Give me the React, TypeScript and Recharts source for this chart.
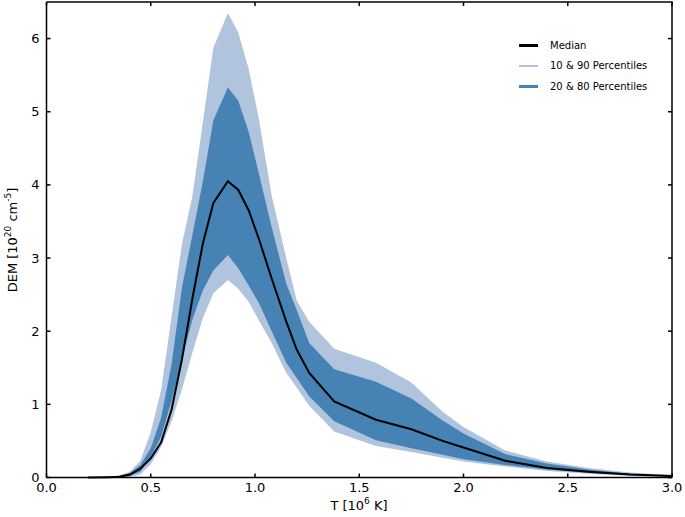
import { ComposedChart, Area, Line, XAxis, YAxis } from "recharts";

// temperature grid [MK]
const T = [
  0.2, 0.3, 0.35, 0.4, 0.45, 0.5, 0.55, 0.6, 0.65, 0.7, 0.75, 0.8, 0.87, 0.92, 0.97,
  1.02, 1.08, 1.15, 1.2, 1.26, 1.38, 1.58, 1.75, 1.9, 2.0, 2.2, 2.4, 2.6, 2.8, 3.0,
];
const MEDIAN = [
  0.0, 0.005, 0.01, 0.04, 0.12, 0.26, 0.48, 0.93, 1.62, 2.45, 3.2, 3.75, 4.05, 3.93, 3.65,
  3.25, 2.72, 2.13, 1.75, 1.43, 1.04, 0.79, 0.66, 0.5, 0.41, 0.23, 0.13, 0.08, 0.04, 0.02,
];
const P10 = [
  0.0, 0.0, 0.0, 0.01, 0.04, 0.18, 0.42, 0.77, 1.21, 1.71, 2.18, 2.52, 2.7, 2.58, 2.4,
  2.14, 1.84, 1.43, 1.23, 0.98, 0.63, 0.43, 0.35, 0.27, 0.22, 0.15, 0.09, 0.05, 0.02, 0.01,
];
const P20 = [
  0.0, 0.0, 0.005, 0.02, 0.08, 0.28, 0.56, 1.05, 1.62, 2.16, 2.56, 2.83, 3.04, 2.86, 2.62,
  2.38, 2.0, 1.57, 1.36, 1.11, 0.77, 0.51, 0.4, 0.31, 0.25, 0.17, 0.11, 0.06, 0.03, 0.01,
];
const P80 = [
  0.0, 0.01, 0.02, 0.06, 0.17, 0.4, 0.82, 1.55, 2.6, 3.32, 4.05, 4.88, 5.33, 5.15, 4.72,
  4.14, 3.42, 2.65, 2.29, 1.84, 1.48, 1.31, 1.08, 0.78, 0.6, 0.32, 0.19, 0.11, 0.05, 0.02,
];
const P90 = [
  0.0, 0.01, 0.03, 0.08, 0.23, 0.62, 1.2, 2.2, 3.2, 3.85, 4.86, 5.87, 6.35, 6.08, 5.58,
  4.88, 3.85, 3.0, 2.42, 2.13, 1.76, 1.57, 1.3, 0.9, 0.69, 0.37, 0.22, 0.13, 0.07, 0.03,
];

const X_TICKS = [0, 0.5, 1, 1.5, 2, 2.5, 3];
const Y_TICKS = [0, 1, 2, 3, 4, 5, 6];
const X_MAX = 3;
const Y_MAX = 6.5;

const LEGEND = [
  { label: "Median", color: "#000000" },
  { label: "10 & 90 Percentiles", color: "#b0c4de" },
  { label: "20 & 80 Percentiles", color: "#4682b4" },
];

const data = T.map((t, i) => ({
  t,
  median: MEDIAN[i],
  band90: [P10[i], P90[i]],
  band80: [P20[i], P80[i]],
}));

// plot box (matches chart margins + axis sizes below)
const PL = 46.5, PT = 2, PR = 672, PB = 477.5;

const FONT = "'DejaVu Sans', sans-serif";
const axisLine = { stroke: "#000", strokeWidth: 1.5 };
const tickLine = { stroke: "#000", strokeWidth: 1.5 };

function YLabel() {
  return (
    <text x={0} y={0} transform="translate(17,240) rotate(-90)" textAnchor="middle"
      fontFamily={FONT} fontSize={13} fill="#000">
      DEM [10<tspan fontSize={9} dy={-6}>20</tspan>
      <tspan dy={6}> cm</tspan>
      <tspan fontSize={9} dy={-6}>-5</tspan>
      <tspan dy={6}>]</tspan>
    </text>
  );
}

function XLabel() {
  return (
    <text x={359} y={510} textAnchor="middle" fontFamily={FONT} fontSize={13} fill="#000">
      T [10<tspan fontSize={9} dy={-6}>6</tspan>
      <tspan dy={6}> K]</tspan>
    </text>
  );
}

// top + right spines with inward ticks (matplotlib-style box)
function Frame() {
  const sx = (v: number) => PL + (v / X_MAX) * (PR - PL);
  const sy = (v: number) => PB - (v / Y_MAX) * (PB - PT);
  return (
    <svg width={685} height={517} style={{ position: "absolute", left: 0, top: 0, pointerEvents: "none" }}>
      <g stroke="#000" strokeWidth={1.5} fill="none">
        <line x1={PL} y1={PT} x2={PR + 0.75} y2={PT} />
        <line x1={PR} y1={PT} x2={PR} y2={PB} />
        {X_TICKS.map((t) => <line key={"x" + t} x1={sx(t)} y1={PT} x2={sx(t)} y2={PT + 4} />)}
        {Y_TICKS.map((v) => <line key={"y" + v} x1={PR} y1={sy(v)} x2={PR - 4} y2={sy(v)} />)}
      </g>
    </svg>
  );
}

export default function App() {
  return (
    <div style={{ position: "fixed", left: 0, top: 0, width: 685, height: 517, background: "#fff" }}>
      <ComposedChart width={685} height={517} data={data}
        margin={{ top: PT, right: 685 - PR, left: 0, bottom: 0 }}>
        <XAxis dataKey="t" type="number" domain={[0, X_MAX]} ticks={X_TICKS}
          tickFormatter={(v) => v.toFixed(1)} height={517 - PB}
          axisLine={axisLine} tickLine={tickLine} tickSize={-4} tickMargin={9}
          tick={{ fill: "#000", fontSize: 13, fontFamily: FONT }} />
        <YAxis type="number" domain={[0, Y_MAX]} ticks={Y_TICKS} width={PL}
          axisLine={axisLine} tickLine={tickLine} tickSize={-4} tickMargin={11}
          tick={{ fill: "#000", fontSize: 13, fontFamily: FONT }} />
        <Area type="linear" dataKey="band90" fill="#b0c4de"
          fillOpacity={1} stroke="none" isAnimationActive={false} />
        <Area type="linear" dataKey="band80" fill="#4682b4"
          fillOpacity={1} stroke="none" isAnimationActive={false} />
        <Line type="linear" dataKey="median" stroke="#000"
          strokeWidth={2} dot={false} isAnimationActive={false} />
        <YLabel />
        <XLabel />
      </ComposedChart>
      <Frame />
      <div style={{ position: "absolute", left: 519, top: 35, fontFamily: FONT, fontSize: 10 }}>
        {LEGEND.map((l) => (
          <div key={l.label} style={{ display: "flex", alignItems: "center", height: 20.5 }}>
            <span style={{ width: 19, height: 2.5, background: l.color, display: "block", marginRight: 12 }} />
            <span>{l.label}</span>
          </div>
        ))}
      </div>
    </div>
  );
}
